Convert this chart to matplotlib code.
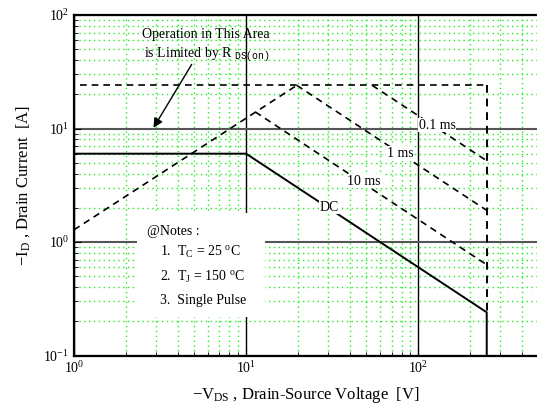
import numpy as np
import matplotlib
matplotlib.use("Agg")
import matplotlib.pyplot as plt
from matplotlib.patches import Rectangle
from matplotlib.ticker import LogLocator, NullFormatter

plt.rcParams['font.family'] = ['Liberation Serif', 'DejaVu Serif']
plt.rcParams['mathtext.fontset'] = 'custom'
plt.rcParams['mathtext.rm'] = 'Liberation Serif'
plt.rcParams['mathtext.it'] = 'Liberation Serif'
plt.rcParams['mathtext.tt'] = 'Liberation Mono'

# data
dc_v = [1, 10, 250, 250]
dc_i = [6, 6, 0.24, 0.1]
rds_v = [1, 19.7]
rds_i = [1.28, 24]
top_v = [1.08, 250]
top_i = [24, 24]
edge_v = [250, 250]
edge_i = [24, 0.24]
ms10_v = [11.3, 250]
ms10_i = [14, 0.63]
ms1_v = [19.7, 250]
ms1_i = [24, 1.9]
ms01_v = [54, 250]
ms01_i = [24, 5.2]

label_txt = ["0.1 ms", "1 ms", "10 ms", "DC"]
label_v = [129, 78.6, 48.5, 30.3]
label_i = [10.7, 6.0, 3.44, 2.03]

fig = plt.figure(figsize=(5.37, 4.07), dpi=100)
ax = fig.add_axes([74/537, 1-355.5/407, 1-74/537, (355.5-15)/407])
ax.set_xscale('log')
ax.set_yscale('log')
ax.set_xlim(1, 10**2.69)
ax.set_ylim(0.1, 100)

# grid
ax.set_axisbelow(True)
ax.xaxis.set_minor_locator(LogLocator(base=10, subs=np.arange(2, 10)))
ax.yaxis.set_minor_locator(LogLocator(base=10, subs=np.arange(2, 10)))
ax.xaxis.set_minor_formatter(NullFormatter())
ax.yaxis.set_minor_formatter(NullFormatter())
ax.grid(which='minor', color='#22ee22', linestyle=(0, (1.0, 2.5)), lw=1.0)
ax.grid(which='major', axis='x', color='black', lw=1.0)
ax.grid(which='major', axis='y', color='#555555', lw=1.5)

dash = (0, (4, 3))
ax.plot(dc_v, dc_i, color='black', lw=1.4, zorder=3)
ax.plot(rds_v, rds_i, color='black', lw=1.2, ls=dash, zorder=3)
ax.plot(top_v, top_i, color='black', lw=1.2, ls=dash, zorder=3)
ax.plot(edge_v, edge_i, color='black', lw=1.4, ls=dash, zorder=3)
ax.plot(ms10_v, ms10_i, color='black', lw=1.2, ls=dash, zorder=3)
ax.plot(ms1_v, ms1_i, color='black', lw=1.2, ls=dash, zorder=3)
ax.plot(ms01_v, ms01_i, color='black', lw=1.2, ls=dash, zorder=3)

for t, x, y in zip(label_txt, label_v, label_i):
    ax.text(x, y, t, ha='center', va='center', fontsize=10, zorder=4,
            bbox=dict(facecolor='white', edgecolor='none', pad=0.5))

# notes box
ax.add_patch(Rectangle((2.32, 0.218), 12.9-2.32, 1.80-0.218,
                       facecolor='white', edgecolor='none', zorder=2))
ax.text(2.66, 1.25, "@Notes :", fontsize=10, va='center', zorder=4)
ax.text(3.16, 0.816, "1.  T$_{\\mathrm{C}}$ = 25 $^{\\mathrm{o}}$C", fontsize=10, va='center', zorder=4)
ax.text(3.16, 0.49, "2.  T$_{\\mathrm{J}}$ = 150 $^{\\mathrm{o}}$C", fontsize=10, va='center', zorder=4)
ax.text(3.16, 0.308, "3.  Single Pulse", fontsize=10, va='center', zorder=4)

# Rds(on) annotation
ax.text(2.5, 66.7, "Operation in This Area", fontsize=10, ha='left', va='center', zorder=4)
ax.text(2.55, 44.5, "is Limited by R $_{\\mathtt{DS(on)}}$", fontsize=10, ha='left', va='center', zorder=4)
ax.annotate("", xy=(2.84, 9.66), xytext=(4.92, 38.5),
            arrowprops=dict(arrowstyle='-|>', color='black', lw=1.0, mutation_scale=14),
            zorder=4)

for s in ['left', 'bottom', 'top']:
    ax.spines[s].set_linewidth(1.6)
ax.spines['right'].set_visible(False)
ax.tick_params(which='both', direction='in', top=False, right=False, labelsize=10)
ax.tick_params(which='major', length=5)
ax.tick_params(which='minor', length=3)

ax.set_xlabel("$-$V$_{\\mathrm{DS}}$ , Drain-Source Voltage  [V]", fontsize=12, labelpad=6)
ax.set_ylabel("$-$I$_{\\mathrm{D}}$ , Drain Current  [A]", fontsize=12, labelpad=8)

fig.savefig("out.png", dpi=100)
